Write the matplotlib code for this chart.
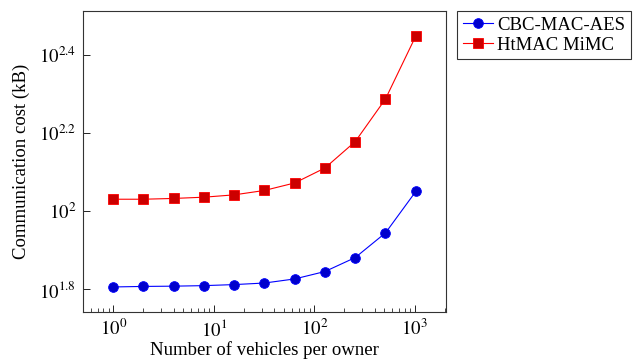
import matplotlib
matplotlib.use("Agg")
import matplotlib.pyplot as plt
from matplotlib.ticker import FixedLocator, FuncFormatter, LogLocator, NullFormatter, NullLocator
import numpy as np

plt.rcParams['font.family'] = ['Liberation Serif', 'DejaVu Serif']
plt.rcParams['mathtext.fontset'] = 'stix'

vehicles = [1, 2, 4, 8, 16, 32, 64, 128, 256, 512, 1024]
cbc_mac_aes = [64.0, 64.2, 64.3, 64.5, 64.9, 65.5, 67.1, 70.1, 76.1, 88.0, 112.3]
htmac_mimc = [107.3, 107.3, 107.8, 108.6, 110.1, 113.0, 118.1, 129.0, 150.7, 193.7, 280.5]
series_names = ["CBC-MAC-AES", "HtMAC MiMC"]
y_tick_exps = [1.8, 2.0, 2.2, 2.4]
x_tick_exps = [0, 1, 2, 3]

FS = 13.5

fig = plt.figure(figsize=(6.33, 3.62), dpi=100)
ax = fig.add_axes([0.131, 0.138, 0.5736, 0.8316])

ax.plot(vehicles, cbc_mac_aes, color=(0, 0, 1), lw=0.8, marker='o', ms=7,
        mfc=(0, 0, 0.8), mec=(0, 0, 1), mew=0.6, label=series_names[0])
ax.plot(vehicles, htmac_mimc, color=(1, 0, 0), lw=0.8, marker='s', ms=6.5,
        mfc=(0.8, 0, 0), mec=(1, 0, 0), mew=0.6, label=series_names[1])

ax.set_xscale('log')
ax.set_yscale('log')

# pgfplots-like 10% enlargement in log space
lx0, lx1 = np.log10(min(vehicles)), np.log10(max(vehicles))
dx = 0.1 * (lx1 - lx0)
ax.set_xlim(10 ** (lx0 - dx), 10 ** (lx1 + dx))
ally = cbc_mac_aes + htmac_mimc
ly0, ly1 = np.log10(min(ally)), np.log10(max(ally))
dy = 0.1 * (ly1 - ly0)
ax.set_ylim(10 ** (ly0 - dy), 10 ** (ly1 + dy))

ax.xaxis.set_major_locator(FixedLocator([10 ** e for e in x_tick_exps]))
ax.xaxis.set_major_formatter(FuncFormatter(lambda v, p: r'$10^{%d}$' % round(np.log10(v))))
ax.xaxis.set_minor_locator(LogLocator(base=10, subs=np.arange(2, 10), numticks=20))
ax.xaxis.set_minor_formatter(NullFormatter())

ax.yaxis.set_major_locator(FixedLocator([10 ** e for e in y_tick_exps]))
def yfmt(v, p):
    e = np.log10(v)
    if abs(e - round(e)) < 1e-6:
        return r'$10^{%d}$' % round(e)
    return r'$10^{%.1f}$' % e
ax.yaxis.set_major_formatter(FuncFormatter(yfmt))
ax.yaxis.set_minor_locator(NullLocator())

ax.tick_params(which='major', direction='in', length=5, width=0.6, labelsize=FS,
               top=False, right=False, pad=5)
ax.tick_params(which='minor', direction='in', length=3, width=0.5, top=False, right=False)
for s in ax.spines.values():
    s.set_linewidth(0.8)
    s.set_color('#333333')

ax.set_xlabel('Number of vehicles per owner', fontsize=FS, labelpad=1)
ax.set_ylabel('Communication cost (kB)', fontsize=FS, labelpad=6)

leg = ax.legend(loc='upper left', bbox_to_anchor=(1.03, 1.0), fontsize=FS,
                frameon=True, fancybox=False, edgecolor='black', handlelength=1.6,
                handletextpad=0.25, borderpad=0.3, labelspacing=0.15, borderaxespad=0)
leg.get_frame().set_linewidth(0.8)

fig.savefig('out.png', dpi=100)
